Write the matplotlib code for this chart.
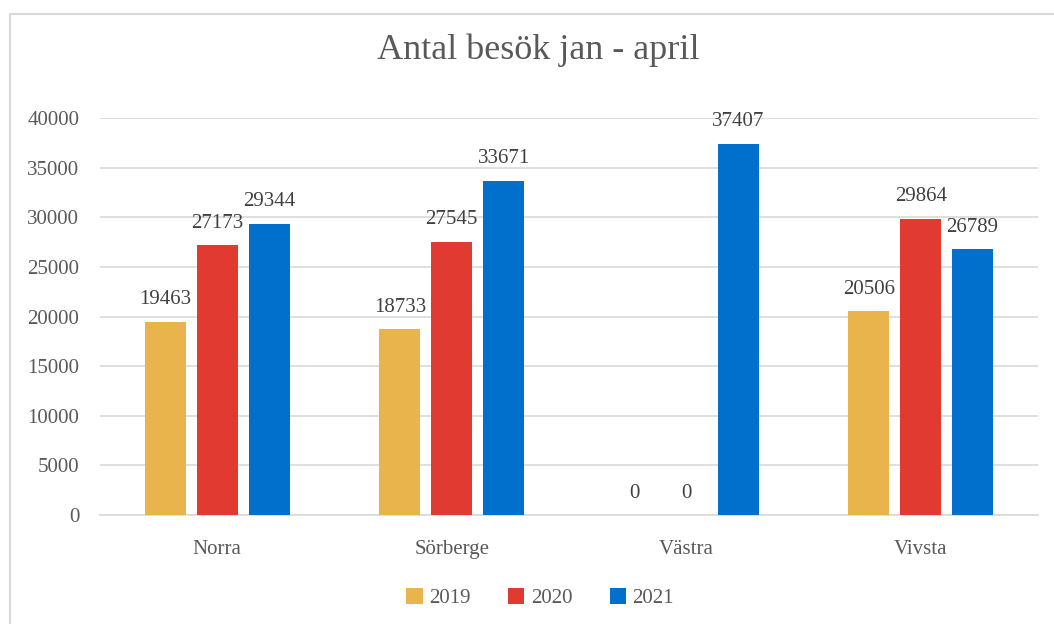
import matplotlib
matplotlib.use('Agg')
import matplotlib.pyplot as plt
import numpy as np
from matplotlib.patches import Rectangle

plt.rcParams.update({
    'font.family': 'Liberation Serif',
    'text.color': '#595959',
    'axes.labelcolor': '#595959',
    'xtick.color': '#595959',
    'ytick.color': '#595959',
})

categories = ['Norra', 'Sörberge', 'Västra', 'Vivsta']
years = ['2019', '2020', '2021']
v2019 = [19463, 18733, 0, 20506]
v2020 = [27173, 27545, 0, 29864]
v2021 = [29344, 33671, 37407, 26789]
colors = ['#E9B44C', '#E03A31', '#0070CC']

fig = plt.figure(figsize=(10.54, 6.24), dpi=100)
# chart border (Excel style)
fig.patches.append(Rectangle((10 / 1054, -0.1), 1.2, 1 - 14 / 624 + 0.1,
                             transform=fig.transFigure, fill=False,
                             edgecolor='#D9D9D9', linewidth=1.5))

ax = fig.add_axes([100 / 1054, 1 - 515 / 624, 938 / 1054, (515 - 118) / 624])

x = np.arange(len(categories))
step = 0.221
w = 0.175
for i, (vals, yr, c) in enumerate(zip([v2019, v2020, v2021], years, colors)):
    bars = ax.bar(x + (i - 1) * step, vals, w, color=c, label=yr, zorder=3)
    ax.bar_label(bars, labels=[str(v) for v in vals], padding=9,
                 fontsize=15, color='#404040')

ax.set_xlim(-0.5, len(categories) - 0.5)
ax.set_ylim(0, 40000)
ax.set_yticks(np.arange(0, 40001, 5000))
ax.set_xticks(x)
ax.set_xticklabels(categories, fontsize=15)
ax.tick_params(axis='y', labelsize=15, length=0, pad=15)
ax.tick_params(axis='x', length=0, pad=18)
ax.grid(axis='y', color='#D9D9D9', linewidth=1.2, zorder=0)
for s in ['top', 'right', 'left']:
    ax.spines[s].set_visible(False)
ax.spines['bottom'].set_color('#D9D9D9')
ax.spines['bottom'].set_linewidth(1.2)

fig.text(538 / 1054, 1 - 50 / 624, 'Antal besök jan - april', ha='center',
         va='center', fontsize=26, color='#595959')

fig.legend(loc='center', bbox_to_anchor=(540 / 1054, 1 - 598 / 624), ncol=3,
           frameon=False, fontsize=15, handlelength=0.8, handleheight=0.8,
           columnspacing=1.8, handletextpad=0.3)

fig.savefig('out.png', dpi=100)
